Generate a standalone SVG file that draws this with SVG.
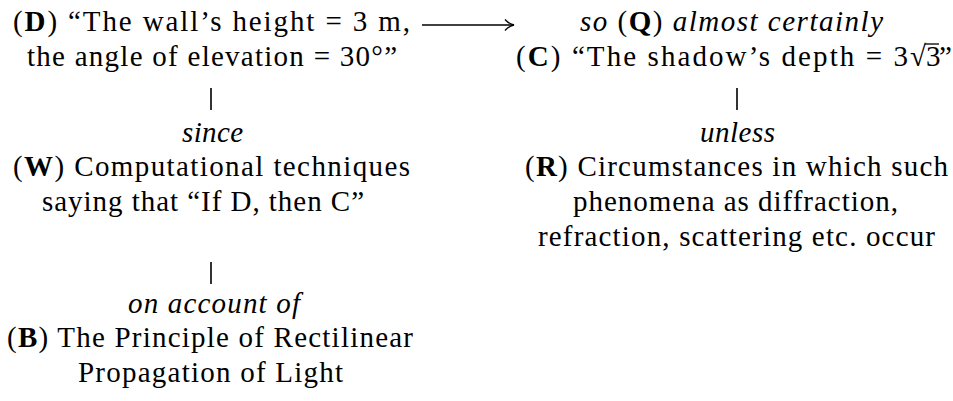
<svg xmlns="http://www.w3.org/2000/svg" width="953" height="401" viewBox="0 0 953 401">
<style>
text{font-family:"Liberation Serif","DejaVu Serif",serif;font-size:29px;fill:#000}
.b{font-weight:bold}
.i{font-style:italic}
.ln{stroke:#000;stroke-width:1.6;fill:none}
</style>
<defs>
<marker id="hook" markerWidth="14" markerHeight="14" refX="12" refY="7" orient="auto" markerUnits="userSpaceOnUse">
<path d="M3,1.5 Q7,6 12,7 Q7,8 3,12.5" fill="none" stroke="#000" stroke-width="1.3"/>
</marker>
</defs>
<rect width="953" height="401" fill="#fff"/>
<g id="connectors">
<line class="ln" x1="422" y1="25" x2="514" y2="25" marker-end="url(#hook)"/>
<line class="ln" x1="211" y1="88" x2="211" y2="110"/>
<line class="ln" x1="737" y1="88" x2="737" y2="110"/>
<line class="ln" x1="211" y1="262" x2="211" y2="284"/>
<text class="i" x="182" y="142" textLength="61">since</text>
<text class="i" x="700" y="142" textLength="75">unless</text>
<text class="i" x="128" y="313" textLength="172">on account of</text>
</g>
<g id="node-D">
<text x="13" y="31" textLength="397">(<tspan class="b">D</tspan>) “The wall’s height = 3 m,</text>
<text x="27" y="66" textLength="370">the angle of elevation = 30°”</text>
</g>
<g id="node-Q">
<text x="580" y="31" textLength="303"><tspan class="i">so</tspan> (<tspan class="b">Q</tspan>) <tspan class="i">almost certainly</tspan></text>
</g>
<g id="node-C">
<text y="66"><tspan x="516" textLength="410">(<tspan class="b">C</tspan>) “The shadow’s depth = 3√</tspan><tspan x="926">3</tspan><tspan x="939">”</tspan></text>
<line x1="925" y1="44" x2="939" y2="44" stroke="#000" stroke-width="1.3"/>
</g>
<g id="node-W">
<text x="13" y="176" textLength="397">(<tspan class="b">W</tspan>) Computational techniques</text>
<text x="42" y="211" textLength="322">saying that “If D, then C”</text>
</g>
<g id="node-R">
<text x="525" y="176" textLength="423">(<tspan class="b">R</tspan>) Circumstances in which such</text>
<text x="573" y="211" textLength="325">phenomena as diffraction,</text>
<text x="538" y="246" textLength="397">refraction, scattering etc. occur</text>
</g>
<g id="node-B">
<text x="7" y="347" textLength="406">(<tspan class="b">B</tspan>) The Principle of Rectilinear</text>
<text x="78" y="382" textLength="265">Propagation of Light</text>
</g>
</svg>
